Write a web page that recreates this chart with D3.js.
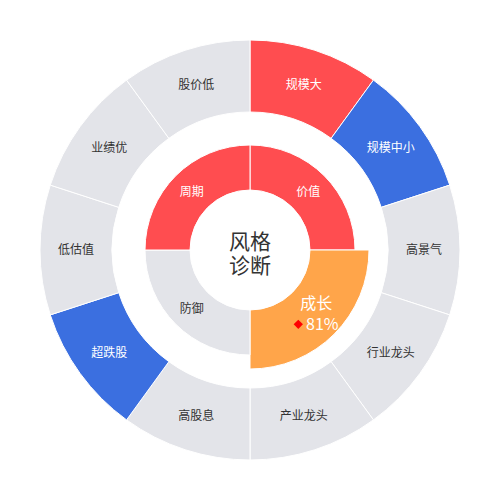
<!DOCTYPE html>
<html>
<head>
<meta charset="utf-8">
<script src="https://cdn.jsdelivr.net/npm/d3@7"></script>
<style>
  html, body { margin: 0; padding: 0; background: #fff; }
  svg { display: block; font-family: "Noto Sans CJK SC", "Noto Sans", sans-serif; }
</style>
</head>
<body>
<div id="chart-container"></div>
<script>
// outer ring: style tags, clockwise from 12 o'clock
const outerLabels = ['规模大', '规模中小', '高景气', '行业龙头', '产业龙头', '高股息', '超跌股', '低估值', '业绩优', '股价低']
const outerStates = ['hot', 'cold', 'off', 'off', 'off', 'off', 'cold', 'off', 'off', 'off']
const outerValues = [1, 1, 1, 1, 1, 1, 1, 1, 1, 1]

// inner ring: four style quadrants
const innerLabels = ['价值', '成长', '防御', '周期']
const innerStates = ['hot', 'focus', 'off', 'hot']
const innerValues = [1, 1, 1, 1]
const focusScore = ['', '81%', '', '']

const centerLines = ['风格', '诊断']

const chartWidth = 500
const chartHeight = 500
const cx = 250
const cy = 250

const colorScale = d3.scaleOrdinal()
  .domain(['hot', 'cold', 'off', 'focus'])
  .range(['#ff4d50', '#3b6fe0', '#e3e4e9', '#ffa54a'])

const textColor = state => (state === 'off' ? '#333' : '#fff')

const svg = d3.select('#chart-container')
  .append('svg')
  .attr('width', chartWidth)
  .attr('height', chartHeight)

const g = svg.append('g').attr('transform', `translate(${cx},${cy})`)

const pie = d3.pie().sort(null).value(d => d.value)

// outer ring
const outerData = pie(outerLabels.map((label, i) => ({ label, state: outerStates[i], value: outerValues[i] })))
const outerArc = d3.arc().innerRadius(138).outerRadius(210)

const outer = g.append('g').attr('class', 'outer')
outer.selectAll('path')
  .data(outerData)
  .enter()
  .append('path')
  .attr('d', outerArc)
  .attr('fill', d => colorScale(d.data.state))
  .attr('stroke', '#fff')
  .attr('stroke-width', 1)

outer.selectAll('text')
  .data(outerData)
  .enter()
  .append('text')
  .attr('transform', d => `translate(${outerArc.centroid(d)})`)
  .attr('text-anchor', 'middle')
  .attr('dy', '0.36em')
  .attr('font-size', 12)
  .attr('fill', d => textColor(d.data.state))
  .text(d => d.data.label)

// inner ring, the focused quadrant sticks out
const innerData = pie(innerLabels.map((label, i) => ({
  label, state: innerStates[i], value: innerValues[i], score: focusScore[i]
})))
const innerArc = d3.arc()
  .innerRadius(60)
  .outerRadius(d => (d.data.state === 'focus' ? 119 : 105))

const inner = g.append('g').attr('class', 'inner')
inner.selectAll('path')
  .data(innerData)
  .enter()
  .append('path')
  .attr('d', innerArc)
  .attr('fill', d => colorScale(d.data.state))
  .attr('stroke', '#fff')
  .attr('stroke-width', 1)

const innerText = inner.selectAll('g.lbl')
  .data(innerData)
  .enter()
  .append('g')
  .attr('class', 'lbl')
  .attr('transform', d => {
    const [x, y] = innerArc.centroid(d)
    return d.data.state === 'focus' ? `translate(${x + 3},${y - 2})` : `translate(${x},${y})`
  })

innerText.append('text')
  .attr('text-anchor', 'middle')
  .attr('dy', d => (d.data.state === 'focus' ? '-0.15em' : '0.36em'))
  .attr('font-size', d => (d.data.state === 'focus' ? 16 : 12))
  .attr('fill', d => textColor(d.data.state))
  .text(d => d.data.label)

const scoreG = innerText.filter(d => d.data.score)
scoreG.append('text')
  .attr('x', 6)
  .attr('y', 19)
  .attr('text-anchor', 'middle')
  .attr('font-size', 16)
  .attr('fill', '#fff')
  .text(d => d.data.score)
scoreG.append('path')
  .attr('d', d3.symbol(d3.symbolDiamond2, 55))
  .attr('transform', 'translate(-18,13)')
  .attr('fill', '#f00')

// center caption, two lines
g.selectAll('text.center')
  .data(centerLines)
  .enter()
  .append('text')
  .attr('class', 'center')
  .attr('text-anchor', 'middle')
  .attr('font-size', 21)
  .attr('fill', '#333')
  .attr('y', (d, i) => -1 + i * 24)
  .text(d => d)
</script>
</body>
</html>
